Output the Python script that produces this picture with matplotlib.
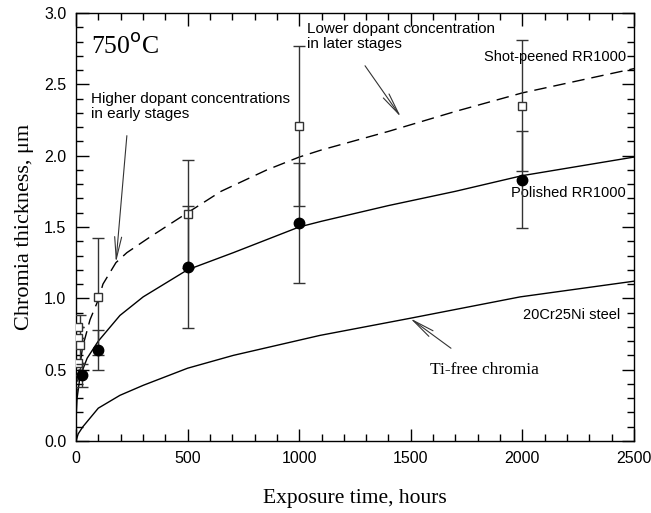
import matplotlib.pyplot as plt
from matplotlib.ticker import MultipleLocator

# fitted curves
shot_cx = [0, 10, 30, 63, 100, 121, 179, 228, 332, 500, 650, 855, 1000, 1100, 1400, 1700, 2000, 2500]
shot_cy = [0.28, 0.45, 0.66, 0.85, 0.99, 1.10, 1.25, 1.32, 1.43, 1.60, 1.75, 1.90, 1.99, 2.04, 2.17, 2.31, 2.44, 2.61]

pol_cx = [0, 5, 18, 50, 100, 197, 301, 500, 705, 1000, 1100, 1400, 1700, 2000, 2500]
pol_cy = [0.15, 0.30, 0.45, 0.58, 0.70, 0.88, 1.01, 1.20, 1.32, 1.50, 1.54, 1.65, 1.75, 1.86, 1.99]

tif_cx = [0, 10, 31, 100, 197, 301, 500, 705, 1093, 1497, 1990, 2500]
tif_cy = [0.0, 0.05, 0.10, 0.23, 0.32, 0.39, 0.51, 0.60, 0.74, 0.86, 1.01, 1.12]

# measured points
shot_x = [8, 8, 8, 20, 100, 500, 1000, 2000]
shot_y = [0.55, 0.72, 0.80, 0.67, 1.01, 1.59, 2.21, 2.35]
shot_err = [0.0, 0.0, 0.0, 0.21, 0.41, 0.38, 0.56, 0.46]

pol_x = [25, 100, 500, 1000, 2000]
pol_y = [0.46, 0.64, 1.22, 1.53, 1.83]
pol_err = [0.08, 0.14, 0.43, 0.42, 0.34]

SANS = "Liberation Sans"
SERIF = "Liberation Serif"

fig = plt.figure(figsize=(6.51, 5.13), dpi=100)
ax = fig.add_axes([0.1167, 0.1404, 0.8572, 0.8343])

ax.plot(shot_cx, shot_cy, color="black", lw=1.0, ls=(0, (9, 5)))
ax.plot(pol_cx, pol_cy, color="black", lw=1.0)
ax.plot(tif_cx, tif_cy, color="black", lw=1.0)

ax.errorbar(shot_x, shot_y, yerr=shot_err, fmt="s", ms=6, mfc="white", mec="#333333",
            mew=1.0, ecolor="#333333", elinewidth=1.0, capsize=4.5, capthick=1.0, zorder=3)
ax.errorbar(pol_x, pol_y, yerr=pol_err, fmt="o", ms=7.5, mfc="black", mec="black",
            ecolor="#333333", elinewidth=1.0, capsize=4.5, capthick=1.0, zorder=4)

ax.set_xlim(0, 2500)
ax.set_ylim(0, 3.0)
ax.xaxis.set_major_locator(MultipleLocator(500))
ax.xaxis.set_minor_locator(MultipleLocator(100))
ax.yaxis.set_major_locator(MultipleLocator(0.5))
ax.yaxis.set_minor_locator(MultipleLocator(0.1))
ax.yaxis.set_major_formatter(plt.FuncFormatter(lambda v, p: f"{v:.1f}"))
ax.tick_params(which="both", direction="in", top=True, right=True, width=1.0)
ax.tick_params(which="major", length=9, labelsize=11.5, pad=7)
ax.tick_params(which="minor", length=5)
for lab in ax.get_xticklabels() + ax.get_yticklabels():
    lab.set_fontfamily(SANS)
for s in ax.spines.values():
    s.set_linewidth(1.0)

ax.set_xlabel("Exposure time, hours", family=SERIF, fontsize=15.5, labelpad=17)
ax.set_ylabel("Chromia thickness, \u03bcm", family=SERIF, fontsize=16, labelpad=7)

ax.text(67, 2.86, "750$^{\\rm o}$C", family=SERIF, fontsize=18.5, va="top", ha="left")

arrow = dict(arrowstyle="->,head_length=1.6,head_width=0.25", color="#333333", lw=0.8,
             shrinkA=0, shrinkB=0)
ax.annotate("", xy=(179, 1.25), xytext=(228, 2.14), arrowprops=arrow)
ax.text(67, 2.24, "Higher dopant concentrations\nin early stages", family=SANS, fontsize=11,
        va="bottom", ha="left", linespacing=1.1)
ax.annotate("", xy=(1456, 2.27), xytext=(1295, 2.63), arrowprops=arrow)
ax.text(1035, 2.73, "Lower dopant concentration\nin later stages", family=SANS, fontsize=11,
        va="bottom", ha="left", linespacing=1.1)
ax.text(2465, 2.69, "Shot-peened RR1000", family=SANS, fontsize=10.5, ha="right", va="center")
ax.text(2465, 1.74, "Polished RR1000", family=SANS, fontsize=10.5, ha="right", va="center")
ax.text(2440, 0.88, "20Cr25Ni steel", family=SANS, fontsize=10.5, ha="right", va="center")
ax.annotate("", xy=(1497, 0.86), xytext=(1680, 0.65), arrowprops=arrow)
ax.text(1832, 0.50, "Ti-free chromia", family=SERIF, fontsize=12.5, ha="center", va="center")

fig.savefig("out.png", dpi=100)
